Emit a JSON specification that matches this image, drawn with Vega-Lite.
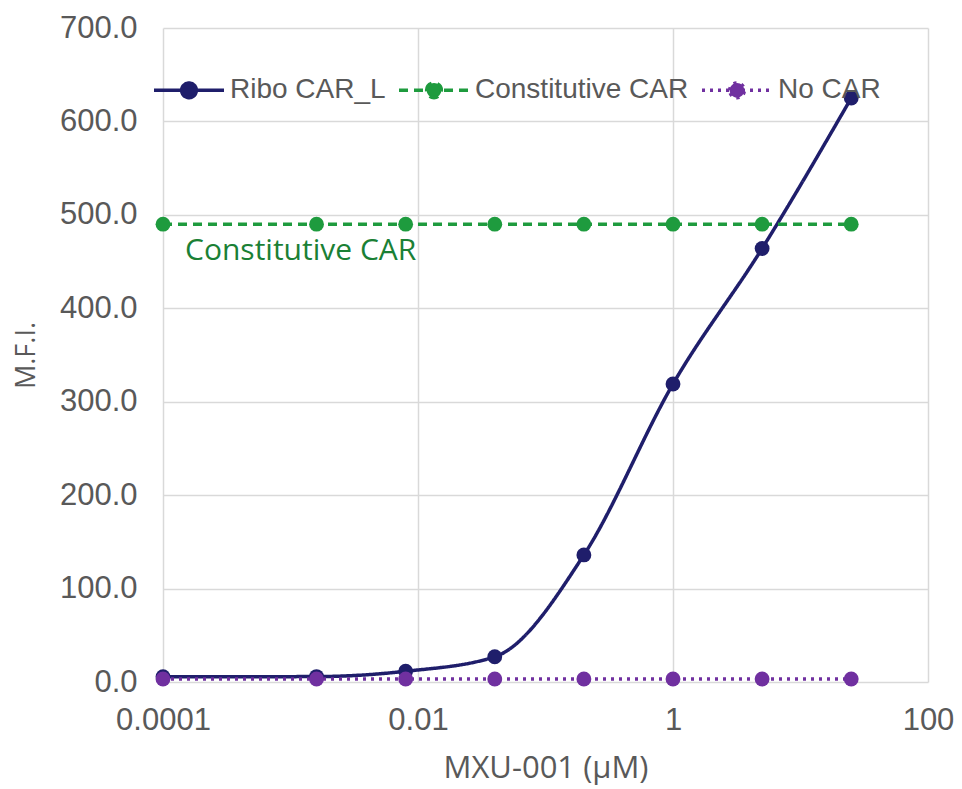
{
  "$schema": "https://vega.github.io/schema/vega-lite/v6.json",
  "autosize": "none",
  "padding": {"left": 163, "top": 28, "right": 34, "bottom": 107},
  "width": 765,
  "height": 654,
  "background": "white",
  "config": {
    "view": {"stroke": null},
    "axis": {
      "labelFont": "Liberation Sans",
      "labelFontSize": 31,
      "labelColor": "#595959",
      "titleFont": "Open Sans",
      "titleFontWeight": "normal",
      "titleColor": "#595959",
      "gridColor": "#D9D9D9",
      "gridWidth": 1.5,
      "domain": false,
      "ticks": false
    }
  },
  "data": {
    "values": [
      {"series": "Ribo CAR_L", "conc": 0.0001, "mfi": 5.6},
      {"series": "Ribo CAR_L", "conc": 0.0016, "mfi": 5.8},
      {"series": "Ribo CAR_L", "conc": 0.008, "mfi": 11.5},
      {"series": "Ribo CAR_L", "conc": 0.04, "mfi": 27},
      {"series": "Ribo CAR_L", "conc": 0.2, "mfi": 136},
      {"series": "Ribo CAR_L", "conc": 1, "mfi": 319},
      {"series": "Ribo CAR_L", "conc": 5, "mfi": 464},
      {"series": "Ribo CAR_L", "conc": 25, "mfi": 625},
      {"series": "Constitutive CAR", "conc": 0.0001, "mfi": 490},
      {"series": "Constitutive CAR", "conc": 0.0016, "mfi": 490},
      {"series": "Constitutive CAR", "conc": 0.008, "mfi": 490},
      {"series": "Constitutive CAR", "conc": 0.04, "mfi": 490},
      {"series": "Constitutive CAR", "conc": 0.2, "mfi": 490},
      {"series": "Constitutive CAR", "conc": 1, "mfi": 490},
      {"series": "Constitutive CAR", "conc": 5, "mfi": 490},
      {"series": "Constitutive CAR", "conc": 25, "mfi": 490},
      {"series": "No CAR", "conc": 0.0001, "mfi": 3.2},
      {"series": "No CAR", "conc": 0.0016, "mfi": 3.2},
      {"series": "No CAR", "conc": 0.008, "mfi": 3.2},
      {"series": "No CAR", "conc": 0.04, "mfi": 3.2},
      {"series": "No CAR", "conc": 0.2, "mfi": 3.2},
      {"series": "No CAR", "conc": 1, "mfi": 3.2},
      {"series": "No CAR", "conc": 5, "mfi": 3.2},
      {"series": "No CAR", "conc": 25, "mfi": 3.2}
    ]
  },
  "encoding": {
    "x": {
      "field": "conc", "type": "quantitative",
      "scale": {"type": "log", "domain": [0.0001, 100], "nice": false},
      "axis": {"values": [0.0001, 0.01, 1, 100], "format": "~g", "title": "MXU-001 (µM)", "titleFontSize": 31, "labelPadding": 23, "titlePadding": 18, "labelFlush": false}
    },
    "y": {
      "field": "mfi", "type": "quantitative",
      "scale": {"domain": [0, 700], "nice": false},
      "axis": {"values": [0, 100, 200, 300, 400, 500, 600, 700], "format": ".1f", "title": "M.F.I.", "titleFontSize": 27, "labelPadding": 26, "titlePadding": 19}
    },
    "color": {
      "field": "series", "type": "nominal",
      "scale": {"domain": ["Ribo CAR_L", "Constitutive CAR", "No CAR"], "range": ["#1F1E6B", "#1E9B3E", "#7030A0"]},
      "legend": {
        "title": null,
        "orient": "none",
        "legendX": -11,
        "legendY": 25,
        "direction": "horizontal",
        "symbolType": "M-1,0L1,0M-0.21,0A0.21,0.21,0,1,1,0.21,0A0.21,0.21,0,1,1,-0.21,0Z",
        "symbolSize": 4900,
        "symbolStrokeWidth": 3.5,
        "labelFont": "Liberation Sans",
        "labelFontSize": 28,
        "labelColor": "#595959",
        "labelOffset": 4,
        "columnPadding": 6,
        "labelLimit": 400,
        "encode": {"symbols": {"update": {"fill": {"scale": "color", "field": "value"}, "opacity": {"value": 1}}}}
      }
    }
  },
  "layer": [
    {
      "mark": {"type": "line", "interpolate": "monotone", "strokeWidth": 3.5},
      "encoding": {
        "strokeDash": {
          "field": "series", "type": "nominal",
          "scale": {"domain": ["Ribo CAR_L", "Constitutive CAR", "No CAR"], "range": [[1, 0], [9, 6], [3, 5]]},
          "legend": null
        }
      }
    },
    {
      "mark": {"type": "point", "filled": true, "opacity": 1, "size": 220}
    },
    {
      "transform": [{"filter": "datum.series === 'Constitutive CAR' && datum.conc === 0.0001"}],
      "mark": {"type": "text", "text": "Constitutive CAR", "align": "left", "baseline": "middle", "dx": 22, "dy": 27, "font": "Open Sans", "fontSize": 30, "color": "#1A8035"},
      "encoding": {"color": {"value": "#1A8035"}}
    }
  ]
}
